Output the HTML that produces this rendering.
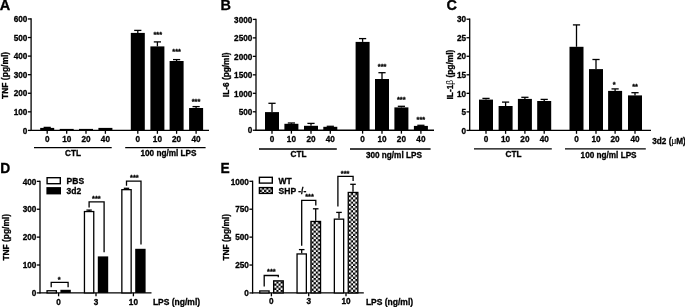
<!DOCTYPE html><html><head><meta charset="utf-8"><style>html,body{margin:0;padding:0;background:#fff;}svg{display:block;will-change:transform;}</style></head><body>
<svg width="685" height="307" viewBox="0 0 685 307" font-family='"Liberation Sans", sans-serif' font-weight="bold" fill="#000">
<defs><pattern id="chk271" x="274.20" y="281.40" width="4.3" height="4.3" patternUnits="userSpaceOnUse"><rect width="4.3" height="4.3" fill="#000"/><rect x="0" y="0" width="2.15" height="2.15" fill="#fff"/><rect x="2.15" y="2.15" width="2.15" height="2.15" fill="#fff"/></pattern><pattern id="chk308" x="311.50" y="222.00" width="4.3" height="4.3" patternUnits="userSpaceOnUse"><rect width="4.3" height="4.3" fill="#000"/><rect x="0" y="0" width="2.15" height="2.15" fill="#fff"/><rect x="2.15" y="2.15" width="2.15" height="2.15" fill="#fff"/></pattern><pattern id="chk346" x="348.80" y="193.00" width="4.3" height="4.3" patternUnits="userSpaceOnUse"><rect width="4.3" height="4.3" fill="#000"/><rect x="0" y="0" width="2.15" height="2.15" fill="#fff"/><rect x="2.15" y="2.15" width="2.15" height="2.15" fill="#fff"/></pattern><pattern id="chkleg" x="259.80" y="187.60" width="4.3" height="4.3" patternUnits="userSpaceOnUse"><rect width="4.3" height="4.3" fill="#000"/><rect x="0" y="0" width="2.15" height="2.15" fill="#fff"/><rect x="2.15" y="2.15" width="2.15" height="2.15" fill="#fff"/></pattern></defs>
<rect width="685" height="307" fill="#fff"/>
<text x="-0.20" y="10.00" font-size="14.5" text-anchor="start" stroke="#000" stroke-width="0.3" >A</text>
<text x="220.60" y="10.40" font-size="14.5" text-anchor="start" stroke="#000" stroke-width="0.3" >B</text>
<text x="446.60" y="10.20" font-size="14.5" text-anchor="start" stroke="#000" stroke-width="0.3" >C</text>
<text x="0.20" y="172.60" font-size="13.774999999999999" text-anchor="start" stroke="#000" stroke-width="0.3" >D</text>
<text x="220.50" y="173.20" font-size="13.774999999999999" text-anchor="start" stroke="#000" stroke-width="0.3" >E</text>
<line x1="31.10" y1="18.30" x2="31.10" y2="131.05" stroke="#000" stroke-width="1.3"/>
<line x1="27.90" y1="130.40" x2="31.10" y2="130.40" stroke="#000" stroke-width="1.3"/>
<text x="27.40" y="133.61" font-size="8.2" text-anchor="end" stroke="#000" stroke-width="0.3" >0</text>
<line x1="27.90" y1="111.83" x2="31.10" y2="111.83" stroke="#000" stroke-width="1.3"/>
<text x="27.40" y="115.04" font-size="8.2" text-anchor="end" stroke="#000" stroke-width="0.3" >100</text>
<line x1="27.90" y1="93.25" x2="31.10" y2="93.25" stroke="#000" stroke-width="1.3"/>
<text x="27.40" y="96.46" font-size="8.2" text-anchor="end" stroke="#000" stroke-width="0.3" >200</text>
<line x1="27.90" y1="74.68" x2="31.10" y2="74.68" stroke="#000" stroke-width="1.3"/>
<text x="27.40" y="77.89" font-size="8.2" text-anchor="end" stroke="#000" stroke-width="0.3" >300</text>
<line x1="27.90" y1="56.10" x2="31.10" y2="56.10" stroke="#000" stroke-width="1.3"/>
<text x="27.40" y="59.31" font-size="8.2" text-anchor="end" stroke="#000" stroke-width="0.3" >400</text>
<line x1="27.90" y1="37.53" x2="31.10" y2="37.53" stroke="#000" stroke-width="1.3"/>
<text x="27.40" y="40.74" font-size="8.2" text-anchor="end" stroke="#000" stroke-width="0.3" >500</text>
<line x1="27.90" y1="18.95" x2="31.10" y2="18.95" stroke="#000" stroke-width="1.3"/>
<text x="27.40" y="22.16" font-size="8.2" text-anchor="end" stroke="#000" stroke-width="0.3" >600</text>
<line x1="31.10" y1="130.40" x2="209.00" y2="130.40" stroke="#000" stroke-width="1.3"/>
<text x="0" y="0" font-size="8.5" text-anchor="middle" stroke="#000" stroke-width="0.3" transform="translate(7.70,75.40) rotate(-90)">TNF (pg/ml)</text>
<rect x="40.20" y="127.90" width="14.00" height="2.50" fill="#000"/>
<line x1="47.20" y1="127.40" x2="47.20" y2="127.90" stroke="#000" stroke-width="1.3"/>
<line x1="43.60" y1="127.40" x2="50.80" y2="127.40" stroke="#000" stroke-width="1.3"/>
<line x1="47.20" y1="130.40" x2="47.20" y2="133.80" stroke="#000" stroke-width="1.3"/>
<rect x="59.70" y="128.90" width="14.00" height="1.50" fill="#000"/>
<line x1="66.70" y1="130.40" x2="66.70" y2="133.80" stroke="#000" stroke-width="1.3"/>
<rect x="79.00" y="128.90" width="14.00" height="1.50" fill="#000"/>
<line x1="86.00" y1="130.40" x2="86.00" y2="133.80" stroke="#000" stroke-width="1.3"/>
<rect x="98.40" y="127.90" width="14.00" height="2.50" fill="#000"/>
<line x1="105.40" y1="130.40" x2="105.40" y2="133.80" stroke="#000" stroke-width="1.3"/>
<rect x="130.80" y="32.90" width="14.00" height="97.50" fill="#000"/>
<line x1="137.80" y1="30.40" x2="137.80" y2="32.90" stroke="#000" stroke-width="1.3"/>
<line x1="134.20" y1="30.40" x2="141.40" y2="30.40" stroke="#000" stroke-width="1.3"/>
<line x1="137.80" y1="130.40" x2="137.80" y2="133.80" stroke="#000" stroke-width="1.3"/>
<rect x="150.40" y="46.40" width="14.00" height="84.00" fill="#000"/>
<line x1="157.40" y1="41.90" x2="157.40" y2="46.40" stroke="#000" stroke-width="1.3"/>
<line x1="153.80" y1="41.90" x2="161.00" y2="41.90" stroke="#000" stroke-width="1.3"/>
<line x1="157.40" y1="130.40" x2="157.40" y2="133.80" stroke="#000" stroke-width="1.3"/>
<rect x="169.60" y="61.00" width="14.00" height="69.40" fill="#000"/>
<line x1="176.60" y1="59.60" x2="176.60" y2="61.00" stroke="#000" stroke-width="1.3"/>
<line x1="173.00" y1="59.60" x2="180.20" y2="59.60" stroke="#000" stroke-width="1.3"/>
<line x1="176.60" y1="130.40" x2="176.60" y2="133.80" stroke="#000" stroke-width="1.3"/>
<rect x="189.10" y="108.00" width="14.00" height="22.40" fill="#000"/>
<line x1="196.10" y1="106.60" x2="196.10" y2="108.00" stroke="#000" stroke-width="1.3"/>
<line x1="192.50" y1="106.60" x2="199.70" y2="106.60" stroke="#000" stroke-width="1.3"/>
<line x1="196.10" y1="130.40" x2="196.10" y2="133.80" stroke="#000" stroke-width="1.3"/>
<text x="47.20" y="142.10" font-size="8.2" text-anchor="middle" stroke="#000" stroke-width="0.3" >0</text>
<text x="66.70" y="142.10" font-size="8.2" text-anchor="middle" stroke="#000" stroke-width="0.3" >10</text>
<text x="86.00" y="142.10" font-size="8.2" text-anchor="middle" stroke="#000" stroke-width="0.3" >20</text>
<text x="105.40" y="142.10" font-size="8.2" text-anchor="middle" stroke="#000" stroke-width="0.3" >40</text>
<text x="137.80" y="142.10" font-size="8.2" text-anchor="middle" stroke="#000" stroke-width="0.3" >0</text>
<text x="157.40" y="142.10" font-size="8.2" text-anchor="middle" stroke="#000" stroke-width="0.3" >10</text>
<text x="176.60" y="142.10" font-size="8.2" text-anchor="middle" stroke="#000" stroke-width="0.3" >20</text>
<text x="196.10" y="142.10" font-size="8.2" text-anchor="middle" stroke="#000" stroke-width="0.3" >40</text>
<line x1="34.00" y1="147.60" x2="111.70" y2="147.60" stroke="#000" stroke-width="1.3"/>
<line x1="125.20" y1="147.60" x2="205.60" y2="147.60" stroke="#000" stroke-width="1.3"/>
<text x="73.00" y="156.00" font-size="8.2" text-anchor="middle" stroke="#000" stroke-width="0.3" >CTL</text>
<text x="168.50" y="156.20" font-size="8.2" text-anchor="middle" stroke="#000" stroke-width="0.3" >100 ng/ml LPS</text>
<text x="0" y="0" font-size="7.4" text-anchor="middle" stroke="#000" stroke-width="0.3" transform="translate(157.70,37.09) scale(1,0.9)">***</text>
<text x="0" y="0" font-size="7.4" text-anchor="middle" stroke="#000" stroke-width="0.3" transform="translate(176.60,54.29) scale(1,0.9)">***</text>
<text x="0" y="0" font-size="7.4" text-anchor="middle" stroke="#000" stroke-width="0.3" transform="translate(196.00,104.39) scale(1,0.9)">***</text>
<line x1="256.00" y1="18.75" x2="256.00" y2="130.90" stroke="#000" stroke-width="1.3"/>
<line x1="252.80" y1="130.25" x2="256.00" y2="130.25" stroke="#000" stroke-width="1.3"/>
<text x="252.30" y="133.46" font-size="8.2" text-anchor="end" stroke="#000" stroke-width="0.3" >0</text>
<line x1="252.80" y1="111.78" x2="256.00" y2="111.78" stroke="#000" stroke-width="1.3"/>
<text x="252.30" y="114.99" font-size="8.2" text-anchor="end" stroke="#000" stroke-width="0.3" >500</text>
<line x1="252.80" y1="93.30" x2="256.00" y2="93.30" stroke="#000" stroke-width="1.3"/>
<text x="252.30" y="96.51" font-size="8.2" text-anchor="end" stroke="#000" stroke-width="0.3" >1000</text>
<line x1="252.80" y1="74.83" x2="256.00" y2="74.83" stroke="#000" stroke-width="1.3"/>
<text x="252.30" y="78.04" font-size="8.2" text-anchor="end" stroke="#000" stroke-width="0.3" >1500</text>
<line x1="252.80" y1="56.35" x2="256.00" y2="56.35" stroke="#000" stroke-width="1.3"/>
<text x="252.30" y="59.56" font-size="8.2" text-anchor="end" stroke="#000" stroke-width="0.3" >2000</text>
<line x1="252.80" y1="37.88" x2="256.00" y2="37.88" stroke="#000" stroke-width="1.3"/>
<text x="252.30" y="41.09" font-size="8.2" text-anchor="end" stroke="#000" stroke-width="0.3" >2500</text>
<line x1="252.80" y1="19.40" x2="256.00" y2="19.40" stroke="#000" stroke-width="1.3"/>
<text x="252.30" y="22.61" font-size="8.2" text-anchor="end" stroke="#000" stroke-width="0.3" >3000</text>
<line x1="256.00" y1="130.25" x2="434.00" y2="130.25" stroke="#000" stroke-width="1.3"/>
<text x="0" y="0" font-size="8.3" text-anchor="middle" stroke="#000" stroke-width="0.3" transform="translate(228.80,74.80) rotate(-90)">IL-6 (pg/ml)</text>
<rect x="265.00" y="112.10" width="14.00" height="18.15" fill="#000"/>
<line x1="272.00" y1="103.30" x2="272.00" y2="112.10" stroke="#000" stroke-width="1.3"/>
<line x1="268.40" y1="103.30" x2="275.60" y2="103.30" stroke="#000" stroke-width="1.3"/>
<line x1="272.00" y1="130.25" x2="272.00" y2="133.65" stroke="#000" stroke-width="1.3"/>
<rect x="284.40" y="123.80" width="14.00" height="6.45" fill="#000"/>
<line x1="291.40" y1="123.00" x2="291.40" y2="123.80" stroke="#000" stroke-width="1.3"/>
<line x1="287.80" y1="123.00" x2="295.00" y2="123.00" stroke="#000" stroke-width="1.3"/>
<line x1="291.40" y1="130.25" x2="291.40" y2="133.65" stroke="#000" stroke-width="1.3"/>
<rect x="304.00" y="125.80" width="14.00" height="4.45" fill="#000"/>
<line x1="311.00" y1="123.40" x2="311.00" y2="125.80" stroke="#000" stroke-width="1.3"/>
<line x1="307.40" y1="123.40" x2="314.60" y2="123.40" stroke="#000" stroke-width="1.3"/>
<line x1="311.00" y1="130.25" x2="311.00" y2="133.65" stroke="#000" stroke-width="1.3"/>
<rect x="323.30" y="126.80" width="14.00" height="3.45" fill="#000"/>
<line x1="330.30" y1="126.30" x2="330.30" y2="126.80" stroke="#000" stroke-width="1.3"/>
<line x1="326.70" y1="126.30" x2="333.90" y2="126.30" stroke="#000" stroke-width="1.3"/>
<line x1="330.30" y1="130.25" x2="330.30" y2="133.65" stroke="#000" stroke-width="1.3"/>
<rect x="355.60" y="41.90" width="14.00" height="88.35" fill="#000"/>
<line x1="362.60" y1="38.60" x2="362.60" y2="41.90" stroke="#000" stroke-width="1.3"/>
<line x1="359.00" y1="38.60" x2="366.20" y2="38.60" stroke="#000" stroke-width="1.3"/>
<line x1="362.60" y1="130.25" x2="362.60" y2="133.65" stroke="#000" stroke-width="1.3"/>
<rect x="375.00" y="79.00" width="14.00" height="51.25" fill="#000"/>
<line x1="382.00" y1="72.70" x2="382.00" y2="79.00" stroke="#000" stroke-width="1.3"/>
<line x1="378.40" y1="72.70" x2="385.60" y2="72.70" stroke="#000" stroke-width="1.3"/>
<line x1="382.00" y1="130.25" x2="382.00" y2="133.65" stroke="#000" stroke-width="1.3"/>
<rect x="394.40" y="107.40" width="14.00" height="22.85" fill="#000"/>
<line x1="401.40" y1="106.30" x2="401.40" y2="107.40" stroke="#000" stroke-width="1.3"/>
<line x1="397.80" y1="106.30" x2="405.00" y2="106.30" stroke="#000" stroke-width="1.3"/>
<line x1="401.40" y1="130.25" x2="401.40" y2="133.65" stroke="#000" stroke-width="1.3"/>
<rect x="413.90" y="125.90" width="14.00" height="4.35" fill="#000"/>
<line x1="420.90" y1="125.30" x2="420.90" y2="125.90" stroke="#000" stroke-width="1.3"/>
<line x1="417.30" y1="125.30" x2="424.50" y2="125.30" stroke="#000" stroke-width="1.3"/>
<line x1="420.90" y1="130.25" x2="420.90" y2="133.65" stroke="#000" stroke-width="1.3"/>
<text x="272.00" y="142.10" font-size="8.2" text-anchor="middle" stroke="#000" stroke-width="0.3" >0</text>
<text x="291.40" y="142.10" font-size="8.2" text-anchor="middle" stroke="#000" stroke-width="0.3" >10</text>
<text x="311.00" y="142.10" font-size="8.2" text-anchor="middle" stroke="#000" stroke-width="0.3" >20</text>
<text x="330.30" y="142.10" font-size="8.2" text-anchor="middle" stroke="#000" stroke-width="0.3" >40</text>
<text x="362.60" y="142.10" font-size="8.2" text-anchor="middle" stroke="#000" stroke-width="0.3" >0</text>
<text x="382.00" y="142.10" font-size="8.2" text-anchor="middle" stroke="#000" stroke-width="0.3" >10</text>
<text x="401.40" y="142.10" font-size="8.2" text-anchor="middle" stroke="#000" stroke-width="0.3" >20</text>
<text x="420.90" y="142.10" font-size="8.2" text-anchor="middle" stroke="#000" stroke-width="0.3" >40</text>
<line x1="259.00" y1="149.00" x2="336.80" y2="149.00" stroke="#000" stroke-width="1.3"/>
<line x1="350.00" y1="149.00" x2="430.60" y2="149.00" stroke="#000" stroke-width="1.3"/>
<text x="298.50" y="157.10" font-size="8.2" text-anchor="middle" stroke="#000" stroke-width="0.3" >CTL</text>
<text x="393.90" y="157.70" font-size="8.2" text-anchor="middle" stroke="#000" stroke-width="0.3" >300 ng/ml LPS</text>
<text x="0" y="0" font-size="7.4" text-anchor="middle" stroke="#000" stroke-width="0.3" transform="translate(382.10,69.49) scale(1,0.9)">***</text>
<text x="0" y="0" font-size="7.4" text-anchor="middle" stroke="#000" stroke-width="0.3" transform="translate(401.20,102.29) scale(1,0.9)">***</text>
<text x="0" y="0" font-size="7.4" text-anchor="middle" stroke="#000" stroke-width="0.3" transform="translate(420.90,122.39) scale(1,0.9)">***</text>
<line x1="469.70" y1="18.55" x2="469.70" y2="131.05" stroke="#000" stroke-width="1.3"/>
<line x1="466.50" y1="130.40" x2="469.70" y2="130.40" stroke="#000" stroke-width="1.3"/>
<text x="466.00" y="133.61" font-size="8.2" text-anchor="end" stroke="#000" stroke-width="0.3" >0</text>
<line x1="466.50" y1="111.87" x2="469.70" y2="111.87" stroke="#000" stroke-width="1.3"/>
<text x="466.00" y="115.08" font-size="8.2" text-anchor="end" stroke="#000" stroke-width="0.3" >5</text>
<line x1="466.50" y1="93.33" x2="469.70" y2="93.33" stroke="#000" stroke-width="1.3"/>
<text x="466.00" y="96.54" font-size="8.2" text-anchor="end" stroke="#000" stroke-width="0.3" >10</text>
<line x1="466.50" y1="74.80" x2="469.70" y2="74.80" stroke="#000" stroke-width="1.3"/>
<text x="466.00" y="78.01" font-size="8.2" text-anchor="end" stroke="#000" stroke-width="0.3" >15</text>
<line x1="466.50" y1="56.27" x2="469.70" y2="56.27" stroke="#000" stroke-width="1.3"/>
<text x="466.00" y="59.48" font-size="8.2" text-anchor="end" stroke="#000" stroke-width="0.3" >20</text>
<line x1="466.50" y1="37.73" x2="469.70" y2="37.73" stroke="#000" stroke-width="1.3"/>
<text x="466.00" y="40.94" font-size="8.2" text-anchor="end" stroke="#000" stroke-width="0.3" >25</text>
<line x1="466.50" y1="19.20" x2="469.70" y2="19.20" stroke="#000" stroke-width="1.3"/>
<text x="466.00" y="22.41" font-size="8.2" text-anchor="end" stroke="#000" stroke-width="0.3" >30</text>
<line x1="469.70" y1="130.40" x2="651.00" y2="130.40" stroke="#000" stroke-width="1.3"/>
<text x="0" y="0" font-size="8.35" text-anchor="middle" stroke="#000" stroke-width="0.3" transform="translate(453.00,74.60) rotate(-90)">IL-1<tspan font-weight="normal" stroke-width="0">&#946;</tspan> (pg/ml)</text>
<rect x="479.00" y="99.60" width="14.00" height="30.80" fill="#000"/>
<line x1="486.00" y1="98.40" x2="486.00" y2="99.60" stroke="#000" stroke-width="1.3"/>
<line x1="482.40" y1="98.40" x2="489.60" y2="98.40" stroke="#000" stroke-width="1.3"/>
<line x1="486.00" y1="130.40" x2="486.00" y2="133.80" stroke="#000" stroke-width="1.3"/>
<rect x="498.60" y="106.00" width="14.00" height="24.40" fill="#000"/>
<line x1="505.60" y1="102.10" x2="505.60" y2="106.00" stroke="#000" stroke-width="1.3"/>
<line x1="502.00" y1="102.10" x2="509.20" y2="102.10" stroke="#000" stroke-width="1.3"/>
<line x1="505.60" y1="130.40" x2="505.60" y2="133.80" stroke="#000" stroke-width="1.3"/>
<rect x="517.90" y="98.90" width="14.00" height="31.50" fill="#000"/>
<line x1="524.90" y1="97.30" x2="524.90" y2="98.90" stroke="#000" stroke-width="1.3"/>
<line x1="521.30" y1="97.30" x2="528.50" y2="97.30" stroke="#000" stroke-width="1.3"/>
<line x1="524.90" y1="130.40" x2="524.90" y2="133.80" stroke="#000" stroke-width="1.3"/>
<rect x="537.20" y="101.00" width="14.00" height="29.40" fill="#000"/>
<line x1="544.20" y1="99.40" x2="544.20" y2="101.00" stroke="#000" stroke-width="1.3"/>
<line x1="540.60" y1="99.40" x2="547.80" y2="99.40" stroke="#000" stroke-width="1.3"/>
<line x1="544.20" y1="130.40" x2="544.20" y2="133.80" stroke="#000" stroke-width="1.3"/>
<rect x="569.50" y="46.80" width="14.00" height="83.60" fill="#000"/>
<line x1="576.50" y1="24.90" x2="576.50" y2="46.80" stroke="#000" stroke-width="1.3"/>
<line x1="572.90" y1="24.90" x2="580.10" y2="24.90" stroke="#000" stroke-width="1.3"/>
<line x1="576.50" y1="130.40" x2="576.50" y2="133.80" stroke="#000" stroke-width="1.3"/>
<rect x="589.00" y="69.10" width="14.00" height="61.30" fill="#000"/>
<line x1="596.00" y1="59.50" x2="596.00" y2="69.10" stroke="#000" stroke-width="1.3"/>
<line x1="592.40" y1="59.50" x2="599.60" y2="59.50" stroke="#000" stroke-width="1.3"/>
<line x1="596.00" y1="130.40" x2="596.00" y2="133.80" stroke="#000" stroke-width="1.3"/>
<rect x="608.10" y="90.90" width="14.00" height="39.50" fill="#000"/>
<line x1="615.10" y1="88.90" x2="615.10" y2="90.90" stroke="#000" stroke-width="1.3"/>
<line x1="611.50" y1="88.90" x2="618.70" y2="88.90" stroke="#000" stroke-width="1.3"/>
<line x1="615.10" y1="130.40" x2="615.10" y2="133.80" stroke="#000" stroke-width="1.3"/>
<rect x="628.00" y="95.40" width="14.00" height="35.00" fill="#000"/>
<line x1="635.00" y1="92.70" x2="635.00" y2="95.40" stroke="#000" stroke-width="1.3"/>
<line x1="631.40" y1="92.70" x2="638.60" y2="92.70" stroke="#000" stroke-width="1.3"/>
<line x1="635.00" y1="130.40" x2="635.00" y2="133.80" stroke="#000" stroke-width="1.3"/>
<text x="486.00" y="142.40" font-size="8.2" text-anchor="middle" stroke="#000" stroke-width="0.3" >0</text>
<text x="505.60" y="142.40" font-size="8.2" text-anchor="middle" stroke="#000" stroke-width="0.3" >10</text>
<text x="524.90" y="142.40" font-size="8.2" text-anchor="middle" stroke="#000" stroke-width="0.3" >20</text>
<text x="544.20" y="142.40" font-size="8.2" text-anchor="middle" stroke="#000" stroke-width="0.3" >40</text>
<text x="576.50" y="142.40" font-size="8.2" text-anchor="middle" stroke="#000" stroke-width="0.3" >0</text>
<text x="596.00" y="142.40" font-size="8.2" text-anchor="middle" stroke="#000" stroke-width="0.3" >10</text>
<text x="615.10" y="142.40" font-size="8.2" text-anchor="middle" stroke="#000" stroke-width="0.3" >20</text>
<text x="635.00" y="142.40" font-size="8.2" text-anchor="middle" stroke="#000" stroke-width="0.3" >40</text>
<line x1="474.00" y1="148.90" x2="551.80" y2="148.90" stroke="#000" stroke-width="1.3"/>
<line x1="565.00" y1="148.90" x2="645.80" y2="148.90" stroke="#000" stroke-width="1.3"/>
<text x="513.50" y="157.20" font-size="8.2" text-anchor="middle" stroke="#000" stroke-width="0.3" >CTL</text>
<text x="608.60" y="157.70" font-size="8.2" text-anchor="middle" stroke="#000" stroke-width="0.3" >100 ng/ml LPS</text>
<text x="652.30" y="143.60" font-size="8.2" text-anchor="start" stroke="#000" stroke-width="0.3" >3d2 (<tspan font-weight="normal" stroke-width="0.15">&#956;</tspan>M)</text>
<text x="0" y="0" font-size="7.4" text-anchor="middle" stroke="#000" stroke-width="0.3" transform="translate(614.20,86.59) scale(1,0.9)">*</text>
<text x="0" y="0" font-size="7.4" text-anchor="middle" stroke="#000" stroke-width="0.3" transform="translate(635.10,88.89) scale(1,0.9)">**</text>
<line x1="40.00" y1="180.70" x2="40.00" y2="293.55" stroke="#000" stroke-width="1.3"/>
<line x1="36.80" y1="292.90" x2="40.00" y2="292.90" stroke="#000" stroke-width="1.3"/>
<text x="36.30" y="296.11" font-size="8.2" text-anchor="end" stroke="#000" stroke-width="0.3" >0</text>
<line x1="36.80" y1="265.01" x2="40.00" y2="265.01" stroke="#000" stroke-width="1.3"/>
<text x="36.30" y="268.22" font-size="8.2" text-anchor="end" stroke="#000" stroke-width="0.3" >100</text>
<line x1="36.80" y1="237.12" x2="40.00" y2="237.12" stroke="#000" stroke-width="1.3"/>
<text x="36.30" y="240.34" font-size="8.2" text-anchor="end" stroke="#000" stroke-width="0.3" >200</text>
<line x1="36.80" y1="209.24" x2="40.00" y2="209.24" stroke="#000" stroke-width="1.3"/>
<text x="36.30" y="212.45" font-size="8.2" text-anchor="end" stroke="#000" stroke-width="0.3" >300</text>
<line x1="36.80" y1="181.35" x2="40.00" y2="181.35" stroke="#000" stroke-width="1.3"/>
<text x="36.30" y="184.56" font-size="8.2" text-anchor="end" stroke="#000" stroke-width="0.3" >400</text>
<line x1="40.00" y1="292.90" x2="151.50" y2="292.90" stroke="#000" stroke-width="1.3"/>
<text x="0" y="0" font-size="8.4" text-anchor="middle" stroke="#000" stroke-width="0.3" transform="translate(8.90,237.30) rotate(-90)">TNF (pg/ml)</text>
<rect x="47.05" y="290.75" width="9.30" height="2.15" fill="#fff" stroke="#000" stroke-width="1.3"/>
<rect x="60.40" y="289.80" width="10.40" height="3.10" fill="#000"/>
<line x1="58.60" y1="292.90" x2="58.60" y2="296.30" stroke="#000" stroke-width="1.3"/>
<rect x="84.45" y="211.55" width="9.30" height="81.35" fill="#fff" stroke="#000" stroke-width="1.3"/>
<line x1="89.10" y1="210.10" x2="89.10" y2="210.90" stroke="#000" stroke-width="1.3"/>
<line x1="86.40" y1="210.10" x2="91.80" y2="210.10" stroke="#000" stroke-width="1.3"/>
<rect x="97.80" y="256.40" width="10.40" height="36.50" fill="#000"/>
<line x1="96.00" y1="292.90" x2="96.00" y2="296.30" stroke="#000" stroke-width="1.3"/>
<rect x="121.85" y="189.65" width="9.30" height="103.25" fill="#fff" stroke="#000" stroke-width="1.3"/>
<line x1="126.50" y1="188.30" x2="126.50" y2="189.00" stroke="#000" stroke-width="1.3"/>
<line x1="123.80" y1="188.30" x2="129.20" y2="188.30" stroke="#000" stroke-width="1.3"/>
<rect x="135.20" y="248.80" width="10.40" height="44.10" fill="#000"/>
<line x1="133.40" y1="292.90" x2="133.40" y2="296.30" stroke="#000" stroke-width="1.3"/>
<text x="58.60" y="304.60" font-size="8.2" text-anchor="middle" stroke="#000" stroke-width="0.3" >0</text>
<text x="96.00" y="304.60" font-size="8.2" text-anchor="middle" stroke="#000" stroke-width="0.3" >3</text>
<text x="133.40" y="304.60" font-size="8.2" text-anchor="middle" stroke="#000" stroke-width="0.3" >10</text>
<text x="152.90" y="304.60" font-size="8.5" text-anchor="start" stroke="#000" stroke-width="0.3" >LPS (ng/ml)</text>
<rect x="47.1" y="177.7" width="13.2" height="6.0" fill="#fff" stroke="#000" stroke-width="1.4"/>
<rect x="46.4" y="187.1" width="14.6" height="7.3" fill="#000"/>
<text x="66.60" y="183.60" font-size="8.5" text-anchor="start" stroke="#000" stroke-width="0.3" >PBS</text>
<text x="66.60" y="193.60" font-size="8.5" text-anchor="start" stroke="#000" stroke-width="0.3" >3d2</text>
<polyline points="51.20,287.30 51.20,282.40 68.10,282.40 68.10,287.30" fill="none" stroke="#000" stroke-width="1.3"/>
<polyline points="89.10,207.50 89.10,201.80 104.10,201.80 104.10,252.30" fill="none" stroke="#000" stroke-width="1.3"/>
<polyline points="126.50,185.70 126.50,181.20 141.00,181.20 141.00,244.60" fill="none" stroke="#000" stroke-width="1.3"/>
<text x="0" y="0" font-size="7.4" text-anchor="middle" stroke="#000" stroke-width="0.3" transform="translate(59.10,282.29) scale(1,0.9)">*</text>
<text x="0" y="0" font-size="7.4" text-anchor="middle" stroke="#000" stroke-width="0.3" transform="translate(96.40,201.09) scale(1,0.9)">***</text>
<text x="0" y="0" font-size="7.4" text-anchor="middle" stroke="#000" stroke-width="0.3" transform="translate(134.40,180.49) scale(1,0.9)">***</text>
<line x1="252.60" y1="180.65" x2="252.60" y2="293.60" stroke="#000" stroke-width="1.3"/>
<line x1="249.40" y1="292.95" x2="252.60" y2="292.95" stroke="#000" stroke-width="1.3"/>
<text x="248.90" y="296.16" font-size="8.2" text-anchor="end" stroke="#000" stroke-width="0.3" >0</text>
<line x1="249.40" y1="265.04" x2="252.60" y2="265.04" stroke="#000" stroke-width="1.3"/>
<text x="248.90" y="268.25" font-size="8.2" text-anchor="end" stroke="#000" stroke-width="0.3" >250</text>
<line x1="249.40" y1="237.12" x2="252.60" y2="237.12" stroke="#000" stroke-width="1.3"/>
<text x="248.90" y="240.34" font-size="8.2" text-anchor="end" stroke="#000" stroke-width="0.3" >500</text>
<line x1="249.40" y1="209.21" x2="252.60" y2="209.21" stroke="#000" stroke-width="1.3"/>
<text x="248.90" y="212.42" font-size="8.2" text-anchor="end" stroke="#000" stroke-width="0.3" >750</text>
<line x1="249.40" y1="181.30" x2="252.60" y2="181.30" stroke="#000" stroke-width="1.3"/>
<text x="248.90" y="184.51" font-size="8.2" text-anchor="end" stroke="#000" stroke-width="0.3" >1000</text>
<line x1="252.60" y1="292.95" x2="363.80" y2="292.95" stroke="#000" stroke-width="1.3"/>
<text x="0" y="0" font-size="8.4" text-anchor="middle" stroke="#000" stroke-width="0.3" transform="translate(229.20,237.30) rotate(-90)">TNF (pg/ml)</text>
<rect x="259.75" y="290.95" width="9.30" height="2.00" fill="#fff" stroke="#000" stroke-width="1.3"/>
<rect x="273.65" y="280.85" width="9.60" height="12.10" fill="url(#chk271)" stroke="#000" stroke-width="1.3"/>
<line x1="271.40" y1="292.95" x2="271.40" y2="296.35" stroke="#000" stroke-width="1.3"/>
<rect x="297.05" y="253.95" width="9.30" height="39.00" fill="#fff" stroke="#000" stroke-width="1.3"/>
<line x1="301.70" y1="249.60" x2="301.70" y2="253.30" stroke="#000" stroke-width="1.3"/>
<line x1="298.90" y1="249.60" x2="304.50" y2="249.60" stroke="#000" stroke-width="1.3"/>
<rect x="310.95" y="221.45" width="9.60" height="71.50" fill="url(#chk308)" stroke="#000" stroke-width="1.3"/>
<line x1="315.70" y1="208.80" x2="315.70" y2="220.80" stroke="#000" stroke-width="1.3"/>
<line x1="312.90" y1="208.80" x2="318.50" y2="208.80" stroke="#000" stroke-width="1.3"/>
<line x1="308.70" y1="292.95" x2="308.70" y2="296.35" stroke="#000" stroke-width="1.3"/>
<rect x="334.35" y="219.15" width="9.30" height="73.80" fill="#fff" stroke="#000" stroke-width="1.3"/>
<line x1="339.00" y1="212.40" x2="339.00" y2="218.50" stroke="#000" stroke-width="1.3"/>
<line x1="336.20" y1="212.40" x2="341.80" y2="212.40" stroke="#000" stroke-width="1.3"/>
<rect x="348.25" y="192.45" width="9.60" height="100.50" fill="url(#chk346)" stroke="#000" stroke-width="1.3"/>
<line x1="353.00" y1="184.30" x2="353.00" y2="191.80" stroke="#000" stroke-width="1.3"/>
<line x1="350.20" y1="184.30" x2="355.80" y2="184.30" stroke="#000" stroke-width="1.3"/>
<line x1="346.00" y1="292.95" x2="346.00" y2="296.35" stroke="#000" stroke-width="1.3"/>
<text x="271.40" y="304.40" font-size="8.2" text-anchor="middle" stroke="#000" stroke-width="0.3" >0</text>
<text x="308.70" y="304.40" font-size="8.2" text-anchor="middle" stroke="#000" stroke-width="0.3" >3</text>
<text x="346.00" y="304.40" font-size="8.2" text-anchor="middle" stroke="#000" stroke-width="0.3" >10</text>
<text x="365.90" y="304.60" font-size="8.5" text-anchor="start" stroke="#000" stroke-width="0.3" >LPS (ng/ml)</text>
<rect x="259.4" y="177.3" width="12.9" height="5.8" fill="#fff" stroke="#000" stroke-width="1.4"/>
<rect x="259.4" y="187.6" width="12.9" height="5.8" fill="url(#chkleg)" stroke="#000" stroke-width="1.4"/>
<text x="278.60" y="183.50" font-size="8.5" text-anchor="start" stroke="#000" stroke-width="0.3" >WT</text>
<text x="278.60" y="193.60" font-size="8.5" text-anchor="start" stroke="#000" stroke-width="0.3" >SHP -/-</text>
<polyline points="264.20,286.40 264.20,275.50 278.30,275.50 278.30,277.30" fill="none" stroke="#000" stroke-width="1.3"/>
<polyline points="301.70,245.80 301.70,200.30 315.80,200.30 315.80,205.60" fill="none" stroke="#000" stroke-width="1.3"/>
<polyline points="337.90,206.60 337.90,176.30 353.10,176.30 353.10,181.10" fill="none" stroke="#000" stroke-width="1.3"/>
<text x="0" y="0" font-size="7.4" text-anchor="middle" stroke="#000" stroke-width="0.3" transform="translate(271.40,274.19) scale(1,0.9)">***</text>
<text x="0" y="0" font-size="7.4" text-anchor="middle" stroke="#000" stroke-width="0.3" transform="translate(309.50,199.29) scale(1,0.9)">***</text>
<text x="0" y="0" font-size="7.4" text-anchor="middle" stroke="#000" stroke-width="0.3" transform="translate(345.10,175.69) scale(1,0.9)">***</text>
</svg></body></html>
